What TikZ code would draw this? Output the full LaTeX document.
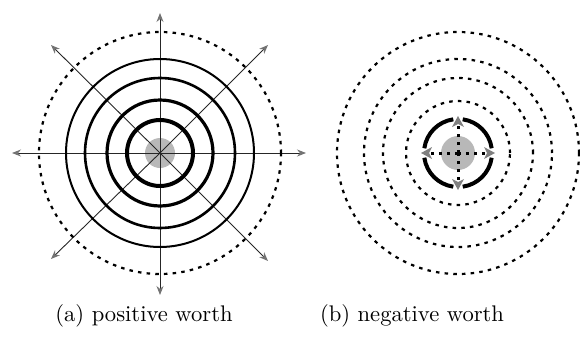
\documentclass[tikz,border=0pt]{standalone}
\usepackage{fontspec}
\newfontfamily\capfont{lmroman10-regular}[Extension=.otf]
\usetikzlibrary{arrows.meta,calc}
\begin{document}
\begin{tikzpicture}[x=1pt,y=1pt,
  axisline/.style={draw=black!85,line width=0.9pt,-{Stealth[length=9pt,width=7pt,color=black!55,fill=black!55]}},
  dotaxis/.style={draw=black,line width=3pt,dash pattern=on 3pt off 5pt,-{Stealth[length=11pt,width=12pt,inset=3pt,color=black!50,fill=black!50,line width=0pt]}},
  dotring/.style={draw=black,line width=2.2pt,dash pattern=on 3.5pt off 5.2pt},
  blob/.style={fill=black!28,draw=none},
  caption/.style={font=\capfont\fontsize{22.6}{27}\selectfont,inner sep=0pt}]
\useasboundingbox (0,0) rectangle (580,341);
% ---------- (a) positive worth ----------
\coordinate (A) at (160,188);
\fill[blob] (A) circle (15);
\coordinate (An) at (160,328);
\coordinate (As) at (160,46);
\coordinate (Aw) at (12,188);
\coordinate (Ae) at (306,188);
\draw[axisline] (A) -- (An);
\draw[axisline] (A) -- (As);
\draw[axisline] (A) -- (Aw);
\draw[axisline] (A) -- (Ae);
\draw[axisline] (A) -- ++(108,108) coordinate (Ane);
\draw[axisline] (A) -- ++(-109,108) coordinate (Anw);
\draw[axisline] (A) -- ++(108,-108) coordinate (Ase);
\draw[axisline] (A) -- ++(-109,-106) coordinate (Asw);
\draw[line width=4pt] (A) circle (33);
\draw[line width=3.2pt] (A) circle (53);
\draw[line width=2.6pt] (A) circle (75);
\draw[line width=2pt] (A) circle (94);
\draw[dotring] (A) circle (121);
\node[caption] (capa) at (144,25) {(a) positive worth};
% ---------- (b) negative worth ----------
\coordinate (B) at (458,188);
\fill[blob] (B) circle (17);
\foreach \a in {0,90,180,270}{
  \draw[line width=4pt] ($(B)+(\a+8:34)$) arc[start angle=\a+8,end angle=\a+82,radius=34];
}
\draw[dotaxis] (B) -- ++(0,37) coordinate (Bn);
\draw[dotaxis] (B) -- ++(0,-37) coordinate (Bs);
\draw[dotaxis] (B) -- ++(-37,0) coordinate (Bw);
\draw[dotaxis] (B) -- ++(37,0) coordinate (Be);
\draw[dotring] (B) circle (52);
\draw[dotring] (B) circle (75);
\draw[dotring] (B) circle (94);
\draw[dotring] (B) circle (121);
\node[caption] (capb) at (412,25) {(b) negative worth};
\end{tikzpicture}
\end{document}
